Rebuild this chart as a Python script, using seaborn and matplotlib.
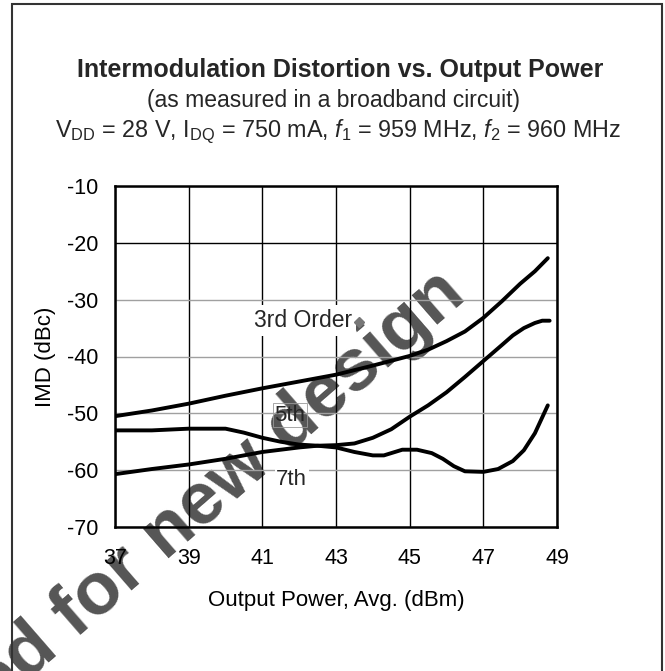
import seaborn as sns
import pandas as pd
import matplotlib.pyplot as plt
from matplotlib.patches import Rectangle

sns.set_theme(style="white")
plt.rcParams['font.family'] = ['Liberation Sans', 'DejaVu Sans']
plt.rcParams['axes.unicode_minus'] = False
plt.rcParams['mathtext.fontset'] = 'custom'
plt.rcParams['mathtext.rm'] = 'Liberation Sans'
plt.rcParams['mathtext.it'] = 'Liberation Sans:italic'

# ------------ Data ------------
# Output power (dBm) vs IMD (dBc)
pout_3rd = [37, 38, 39, 40, 41, 42, 43, 44, 45, 45.5, 46, 46.5, 47, 47.5, 48, 48.4, 48.75]
imd_3rd = [-50.5, -49.5, -48.3, -46.9, -45.6, -44.4, -43.2, -41.6, -39.9, -38.8, -37.3, -35.6, -33.2, -30.3, -27.2, -25.0, -22.7]

pout_5th = [37, 38, 39, 40, 40.5, 41, 41.5, 42, 42.5, 43, 43.5, 44, 44.5, 45, 45.5, 46, 46.5, 47, 47.5, 47.8, 48.1, 48.4, 48.6, 48.8]
imd_5th = [-53.0, -53.0, -52.7, -52.7, -53.4, -54.3, -55.0, -55.5, -55.7, -55.6, -55.3, -54.3, -52.8, -50.6, -48.6, -46.3, -43.6, -40.8, -38.0, -36.3, -35.0, -34.1, -33.7, -33.7]

pout_7th = [37, 38, 39, 40, 41, 42, 42.5, 43, 43.5, 44, 44.3, 44.8, 45.2, 45.6, 45.9, 46.2, 46.5, 47, 47.4, 47.8, 48.1, 48.4, 48.75]
imd_7th = [-60.7, -59.8, -59.0, -58.0, -56.8, -56.0, -55.7, -56.0, -56.8, -57.4, -57.4, -56.4, -56.4, -57.0, -58.0, -59.3, -60.2, -60.3, -59.8, -58.4, -56.5, -53.5, -48.6]

x_ticks = [37, 39, 41, 43, 45, 47, 49]
y_ticks = [-70, -60, -50, -40, -30, -20, -10]

df = pd.concat([
    pd.DataFrame({"pout": pout_3rd, "imd": imd_3rd, "order": "3rd"}),
    pd.DataFrame({"pout": pout_5th, "imd": imd_5th, "order": "5th"}),
    pd.DataFrame({"pout": pout_7th, "imd": imd_7th, "order": "7th"}),
], ignore_index=True)

# ------------ Figure ------------
W, H = 665, 671
fig = plt.figure(figsize=(W / 100, H / 100), dpi=100)


def fx(px):
    return px / W


def fy(py):
    return 1 - py / H


ax = fig.add_axes([fx(115), fy(527), fx(557) - fx(115), fy(186) - fy(527)])
ax.set_facecolor("none")

sns.lineplot(data=df, x="pout", y="imd", hue="order", palette=["black"] * 3,
             estimator=None, sort=False, legend=False, lw=2.8, ax=ax, zorder=5)

ax.set_xlim(37, 49)
ax.set_ylim(-70, -10)
ax.set_xticks(x_ticks)
ax.set_yticks(y_ticks)
ax.tick_params(length=0, labelsize=15.5, colors="black")
ax.tick_params(axis="x", pad=15)
ax.tick_params(axis="y", pad=12)

ax.grid(axis="x", color="black", lw=1.0)
ax.grid(axis="y", color="#a0a0a0", lw=1.0)
for gl, v in zip(ax.yaxis.get_gridlines(), y_ticks):
    if v == -20:
        gl.set_color("black")

for s in ax.spines.values():
    s.set_color("black")
    s.set_linewidth(1.8)

ax.set_xlabel("Output Power, Avg. (dBm)", fontsize=16, labelpad=15, color="black")
ax.set_ylabel("IMD (dBc)", fontsize=16, labelpad=8, color="black")

# curve labels
ax.text(42.1, -33.6, "3rd Order", fontsize=16.5, ha="center", va="center", zorder=6,
        bbox=dict(facecolor="white", edgecolor="none", pad=3))
ax.plot([43.63], [-33.9], marker="D", ms=5, color="#777777", zorder=7)
ax.text(41.75, -50.3, "5th", fontsize=16, ha="center", va="center", zorder=6,
        bbox=dict(facecolor="none", edgecolor="#999999", lw=0.6, pad=1))
ax.text(41.8, -61.6, "7th", fontsize=16, ha="center", va="center", zorder=6,
        bbox=dict(facecolor="white", edgecolor="none", pad=1))

# titles
fig.text(fx(340), fy(70), "Intermodulation Distortion vs. Output Power",
         fontsize=18, fontweight="bold", ha="center", va="center")
fig.text(fx(333), fy(100), "(as measured in a broadband circuit)",
         fontsize=16.5, ha="center", va="center")
fig.text(fx(338), fy(132),
         r"V$_\mathrm{DD}$ = 28 V, I$_\mathrm{DQ}$ = 750 mA, $f_1$ = 959 MHz, $f_2$ = 960 MHz",
         fontsize=16.8, ha="center", va="center")

# watermark
fig.text(fx(468), fy(298), "Not Recommended for new design", rotation=41,
         rotation_mode="anchor", ha="right", va="baseline", fontsize=53,
         fontweight="bold", color="#555555", zorder=-1)

# page frame (open at the bottom)
fig.add_artist(Rectangle((fx(12), -0.2), fx(662) - fx(12), fy(4) + 0.2,
                         transform=fig.transFigure, fill=False,
                         ec="#333333", lw=1.5, zorder=10))

fig.savefig("out.png", dpi=100)
